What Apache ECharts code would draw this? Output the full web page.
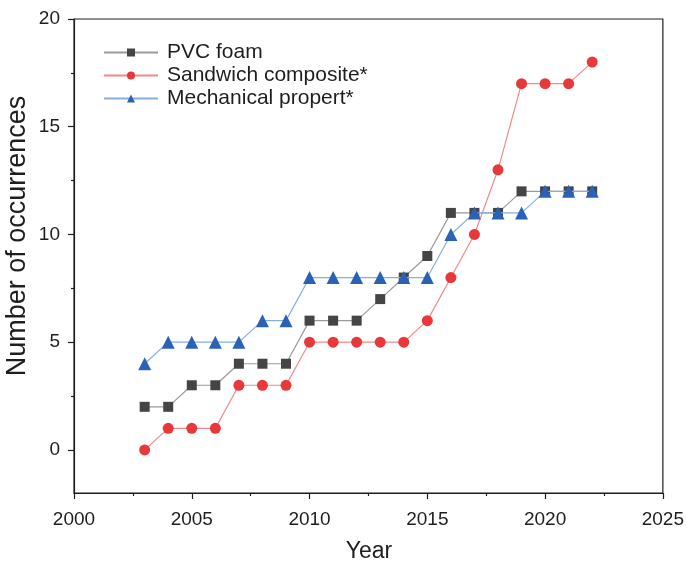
<!DOCTYPE html>
<html><head><meta charset="utf-8">
<script src="https://cdn.jsdelivr.net/npm/echarts@6/dist/echarts.min.js"></script>
<style>html,body{margin:0;padding:0;background:#fff}#c{width:687px;height:566px}</style>
</head><body><div id="c"></div>
<script>
var years = [2003,2004,2005,2006,2007,2008,2009,2010,2011,2012,2013,2014,2015,2016,2017,2018,2019,2020,2021,2022];
var pvcFoam = [2,2,3,3,4,4,4,6,6,6,7,8,9,11,11,11,12,12,12,12];
var sandwich = [0,1,1,1,3,3,3,5,5,5,5,5,6,8,10,13,17,17,17,18];
var mechanical = [4,5,5,5,5,6,6,8,8,8,8,8,8,10,11,11,11,12,12,12];
var yMajorTicks = [0,5,10,15,20];
var yMinorTicks = [2.5,7.5,12.5,17.5];
var seriesNames = ['PVC foam','Sandwich composite*','Mechanical propert*'];
var xTitle = 'Year';
var yTitle = 'Number of occurrences';

function pairs(v){ return years.map(function(y,i){ return [y, v[i]]; }); }
var font = 'Liberation Sans, Arial, sans-serif';
var ink = '#1e1e1e';
var chart = echarts.init(document.getElementById('c'));
chart.setOption({
  animation:false,
  grid:{left:74,right:21,top:19,bottom:73,show:true,borderColor:ink,borderWidth:1.2,backgroundColor:'transparent'},
  legend:{
    orient:'vertical', left:98, top:37, itemGap:2, itemWidth:54, itemHeight:10,
    textStyle:{fontFamily:font,fontSize:21,color:ink,padding:[0,0,0,4]},
    data:seriesNames
  },
  graphic:[{
    type:'text', x:18, y:236, rotation:Math.PI/2,
    style:{text:yTitle, fontFamily:font, fontSize:27, fill:ink, align:'center', verticalAlign:'middle'}
  },{
    type:'text', x:369, y:552,
    style:{text:xTitle, fontFamily:font, fontSize:23, fill:ink, align:'center', verticalAlign:'middle'}
  }],
  xAxis:{
    type:'value', min:2000, max:2025, interval:5,
    axisLine:{onZero:false,lineStyle:{color:ink,width:1.2}},
    axisTick:{show:true,inside:false,length:6,lineStyle:{color:ink,width:1.2}},
    minorTick:{show:true,splitNumber:2,length:3,lineStyle:{color:ink,width:1.2}},
    axisLabel:{fontFamily:font,fontSize:19,color:ink,margin:17,formatter:function(v){return String(v);}},
    splitLine:{show:false}
  },
  yAxis:[{
    type:'value', min:-2, max:20,
    axisLine:{show:true,onZero:false,lineStyle:{color:ink,width:1.2}},
    axisTick:{show:true,length:6,customValues:yMajorTicks,lineStyle:{color:ink,width:1.2}},
    axisLabel:{fontFamily:font,fontSize:19,color:ink,margin:14,customValues:yMajorTicks},
    splitLine:{show:false}
  },{
    type:'value', min:-2, max:20, position:'left',
    axisLine:{show:false},
    axisTick:{show:true,length:3,customValues:yMinorTicks,lineStyle:{color:ink,width:1.2}},
    axisLabel:{show:false},
    splitLine:{show:false}
  }],
  series:[
    {name:seriesNames[0],type:'line',data:pairs(pvcFoam),symbol:'rect',symbolSize:10,
     lineStyle:{color:'#9a9a9a',width:1.2},itemStyle:{color:'#454545'},z:3},
    {name:seriesNames[1],type:'line',data:pairs(sandwich),symbol:'circle',symbolSize:11,
     lineStyle:{color:'#f08a8a',width:1.2},itemStyle:{color:'#e8383a'},z:2},
    {name:seriesNames[2],type:'line',data:pairs(mechanical),symbol:'triangle',symbolSize:13,
     lineStyle:{color:'#86aee0',width:1.2},itemStyle:{color:'#2a62b8'},z:4}
  ]
});
</script></body></html>
